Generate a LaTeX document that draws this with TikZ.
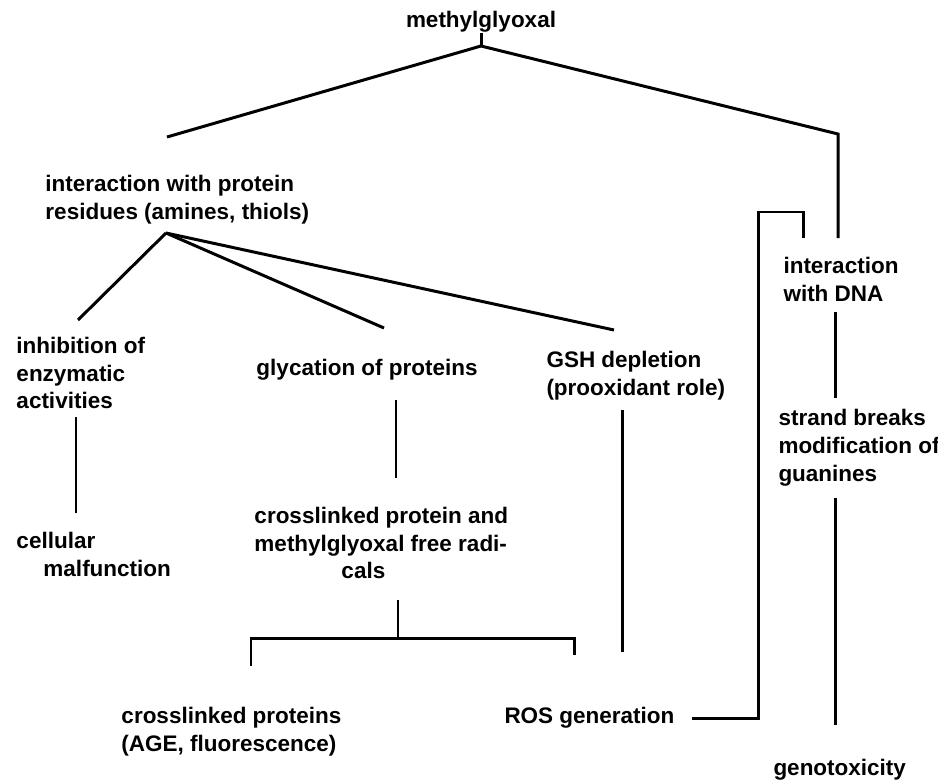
\documentclass[tikz,border=0pt]{standalone}
\usepackage{fontspec}
\setmainfont{Liberation Sans}
\usepackage{tikz}

\begin{document}
\begin{tikzpicture}[x=0.2mm, y=-0.2mm, line width=1.7pt,
    txt/.style={anchor=west, align=left, inner sep=0pt,
        font=\fontsize{12.8pt}{15.9pt}\selectfont\bfseries}]
        \useasboundingbox (0,0) rectangle (938,782);

        % Top node
        \node[txt, anchor=center] (mg) at (481, 22) {methylglyoxal};

        % Left branch: protein residues
        \node[txt] (prot) at (44, 200) {interaction with protein\\residues (amines, thiols)};
        \node[txt] (inh) at (15, 373) {inhibition of\\enzymatic\\activities};
        \node[txt] (cell) at (15, 554) {cellular\\\hspace*{5.4mm}malfunction};
        \node[txt] (glyc) at (255, 370) {glycation of proteins};
        \node[txt] (gsh) at (545, 376) {GSH depletion\\(prooxidant role)};
        \node[txt] (radi) at (253, 543) {crosslinked protein and\\methylglyoxal free radi-\\\hspace*{17.4mm}cals};
        \node[txt] (age) at (120, 732) {crosslinked proteins\\(AGE, fluorescence)};
        \node[txt] (ros) at (503, 718) {ROS generation};

        % Right branch: DNA
        \node[txt] (dna) at (782, 279) {interaction\\with DNA};
        \node[txt] (strand) at (777, 448) {strand breaks\\modification of\\guanines};
        \node[txt] (geno) at (772, 770) {genotoxicity};

        % End points of the lines
        \coordinate (mgtop) at (481, 33);
        \coordinate (apex) at (481, 46);
        \coordinate (protend) at (167, 137);
        \coordinate (dnaturn) at (838, 134);
        \coordinate (dnaend) at (838, 238);
        \coordinate (fan) at (166, 233);
        \coordinate (inhend) at (78, 320);
        \coordinate (glycend) at (384, 328);
        \coordinate (gshend) at (614, 330);
        \coordinate (inh1) at (76, 417);
        \coordinate (inh2) at (76, 513);
        \coordinate (glyc1) at (396, 400);
        \coordinate (glyc2) at (396, 478);
        \coordinate (radi1) at (398, 600);
        \coordinate (brmid) at (398, 638);
        \coordinate (brleft) at (251, 638);
        \coordinate (brright) at (574, 638);
        \coordinate (ageend) at (251, 666);
        \coordinate (rosend) at (574, 655);
        \coordinate (gsh1) at (622, 410);
        \coordinate (gsh2) at (622, 652);
        \coordinate (ros1) at (692, 718);
        \coordinate (ros2) at (758, 718);
        \coordinate (ros3) at (758, 212);
        \coordinate (ros4) at (803, 212);
        \coordinate (ros5) at (803, 238);
        \coordinate (dna1) at (835, 312);
        \coordinate (dna2) at (835, 398);
        \coordinate (str1) at (835, 498);
        \coordinate (str2) at (835, 725);

        % Lines from methylglyoxal
        \draw (mgtop) -- (apex);
        \draw (protend) -- (apex) -- (dnaturn) -- (dnaend);

        % Fan below protein residues
        \draw (fan) -- (inhend);
        \draw (fan) -- (glycend);
        \draw (fan) -- (gshend);

        % Vertical links
        \draw (inh1) -- (inh2);
        \draw (glyc1) -- (glyc2);
        \draw (radi1) -- (brmid);
        \draw (ageend) -- (brleft) -- (brright) -- (rosend);
        \draw (gsh1) -- (gsh2);

        % ROS back to DNA
        \draw (ros1) -- (ros2) -- (ros3) -- (ros4) -- (ros5);
        \draw (dna1) -- (dna2);
        \draw (str1) -- (str2);
    \end{tikzpicture}
\end{document}
